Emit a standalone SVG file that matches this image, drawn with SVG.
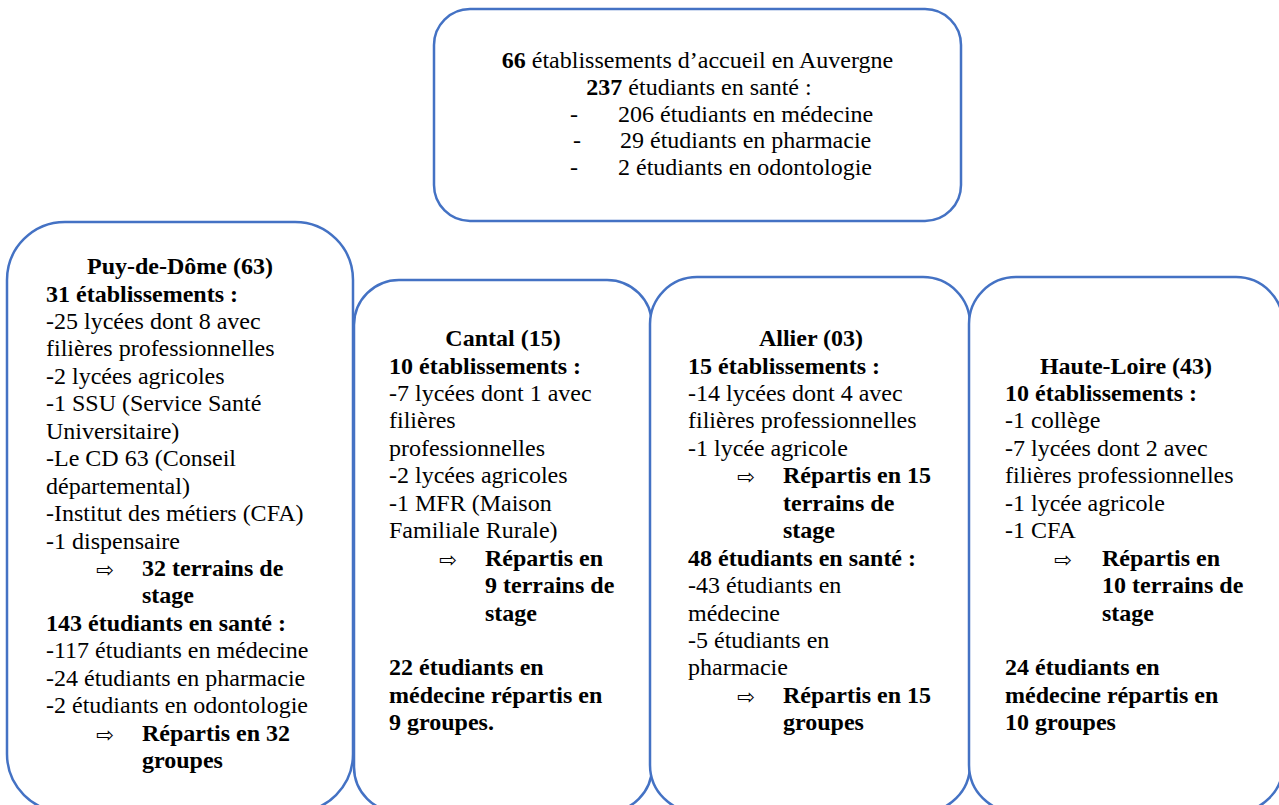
<svg xmlns="http://www.w3.org/2000/svg" width="1279" height="805" viewBox="0 0 1279 805">
<style>
.box{fill:#fff;stroke:#4472C4;stroke-width:2.5}
text{font-family:"Liberation Serif","Times New Roman",serif;font-size:24px;fill:#000}
.b{font-weight:bold}
.c{text-anchor:middle}
.arr{font-family:"DejaVu Sans",sans-serif;font-size:21px}
</style>
<rect width="1279" height="805" fill="#fff"/>
<g id="connectors"></g>
<g id="total">
<rect class="box" x="434" y="9" width="527" height="212" rx="36"/>
<text class="c" x="697.5" y="67.5"><tspan class="b">66</tspan> établissements d’accueil en Auvergne</text>
<text class="c" x="699" y="95"><tspan class="b">237</tspan> étudiants en santé :</text>
<text x="570" y="121.7">-</text><text x="618" y="121.7">206 étudiants en médecine</text>
<text x="573" y="148.4">-</text><text x="620" y="148.4">29 étudiants en pharmacie</text>
<text x="570" y="175">-</text><text x="618" y="175">2 étudiants en odontologie</text>
</g>
<g id="puy-de-dome">
<rect class="box" x="7" y="222" width="346" height="590" rx="58"/>
<text class="b c" x="180" y="274">Puy-de-Dôme (63)</text>
<text class="b" x="46" y="301.5">31 établissements :</text>
<text x="46" y="328.9">-25 lycées dont 8 avec</text>
<text x="46" y="356.4">filières professionnelles</text>
<text x="46" y="383.8">-2 lycées agricoles</text>
<text x="46" y="411.3">-1 SSU (Service Santé</text>
<text x="46" y="438.7">Universitaire)</text>
<text x="46" y="466.2">-Le CD 63 (Conseil</text>
<text x="46" y="493.6">départemental)</text>
<text x="46" y="521.1">-Institut des métiers (CFA)</text>
<text x="46" y="548.5">-1 dispensaire</text>
<text class="arr" x="96" y="577">⇨</text><text class="b" x="142" y="576">32 terrains de</text>
<text class="b" x="142" y="603.4">stage</text>
<text class="b" x="46" y="630.9">143 étudiants en santé :</text>
<text x="46" y="658.3">-117 étudiants en médecine</text>
<text x="46" y="685.8">-24 étudiants en pharmacie</text>
<text x="46" y="713.2">-2 étudiants en odontologie</text>
<text class="arr" x="96" y="741.7">⇨</text><text class="b" x="142" y="740.7">Répartis en 32</text>
<text class="b" x="142" y="768.1">groupes</text>
</g>
<g id="cantal">
<rect class="box" x="354" y="280" width="298" height="532" rx="45"/>
<text class="b c" x="503" y="346">Cantal (15)</text>
<text class="b" x="389" y="373.5">10 établissements :</text>
<text x="389" y="400.9">-7 lycées dont 1 avec</text>
<text x="389" y="428.4">filières</text>
<text x="389" y="455.8">professionnelles</text>
<text x="389" y="483.3">-2 lycées agricoles</text>
<text x="389" y="510.7">-1 MFR (Maison</text>
<text x="389" y="538.2">Familiale Rurale)</text>
<text class="arr" x="439" y="566.6">⇨</text><text class="b" x="485" y="565.6">Répartis en</text>
<text class="b" x="485" y="593.1">9 terrains de</text>
<text class="b" x="485" y="620.5">stage</text>
<text class="b" x="389" y="675.4">22 étudiants en</text>
<text class="b" x="389" y="702.9">médecine répartis en</text>
<text class="b" x="389" y="730.3">9 groupes.</text>
</g>
<g id="allier">
<rect class="box" x="650" y="277" width="320" height="535" rx="47"/>
<text class="b c" x="811" y="346">Allier (03)</text>
<text class="b" x="688" y="373.5">15 établissements :</text>
<text x="688" y="400.9">-14 lycées dont 4 avec</text>
<text x="688" y="428.4">filières professionnelles</text>
<text x="688" y="455.8">-1 lycée agricole</text>
<text class="arr" x="737" y="484.3">⇨</text><text class="b" x="783" y="483.3">Répartis en 15</text>
<text class="b" x="783" y="510.7">terrains de</text>
<text class="b" x="783" y="538.2">stage</text>
<text class="b" x="688" y="565.6">48 étudiants en santé :</text>
<text x="688" y="593.1">-43 étudiants en</text>
<text x="688" y="620.5">médecine</text>
<text x="688" y="648">-5 étudiants en</text>
<text x="688" y="675.4">pharmacie</text>
<text class="arr" x="737" y="703.9">⇨</text><text class="b" x="783" y="702.9">Répartis en 15</text>
<text class="b" x="783" y="730.3">groupes</text>
</g>
<g id="haute-loire">
<rect class="box" x="969" y="277" width="314" height="535" rx="47"/>
<text class="b c" x="1126" y="373.5">Haute-Loire (43)</text>
<text class="b" x="1005" y="400.9">10 établissements :</text>
<text x="1005" y="428.4">-1 collège</text>
<text x="1005" y="455.8">-7 lycées dont 2 avec</text>
<text x="1005" y="483.3">filières professionnelles</text>
<text x="1005" y="510.7">-1 lycée agricole</text>
<text x="1005" y="538.2">-1 CFA</text>
<text class="arr" x="1054" y="566.6">⇨</text><text class="b" x="1102" y="565.6">Répartis en</text>
<text class="b" x="1102" y="593.1">10 terrains de</text>
<text class="b" x="1102" y="620.5">stage</text>
<text class="b" x="1005" y="675.4">24 étudiants en</text>
<text class="b" x="1005" y="702.9">médecine répartis en</text>
<text class="b" x="1005" y="730.3">10 groupes</text>
</g>
</svg>
